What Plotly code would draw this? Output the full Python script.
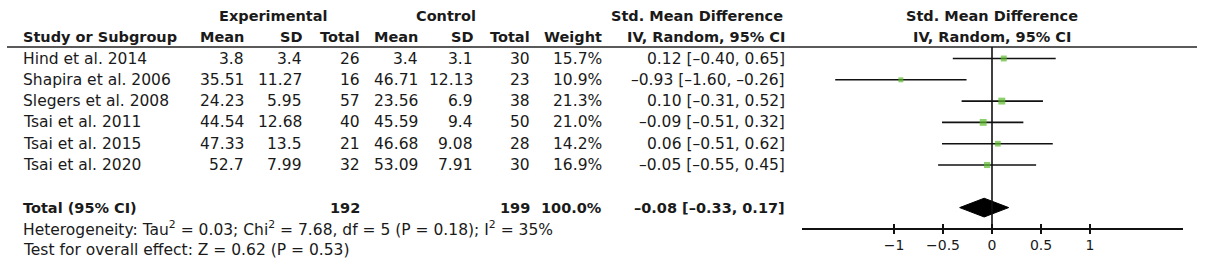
import plotly.graph_objects as go

# ---------------- data ----------------
studies = ["Hind et al. 2014", "Shapira et al. 2006", "Slegers et al. 2008",
           "Tsai et al. 2011", "Tsai et al. 2015", "Tsai et al. 2020"]
exp_mean = ["3.8", "35.51", "24.23", "44.54", "47.33", "52.7"]
exp_sd = ["3.4", "11.27", "5.95", "12.68", "13.5", "7.99"]
exp_n = [26, 16, 57, 40, 21, 32]
ctl_mean = ["3.4", "46.71", "23.56", "45.59", "46.68", "53.09"]
ctl_sd = ["3.1", "12.13", "6.9", "9.4", "9.08", "7.91"]
ctl_n = [30, 23, 38, 50, 28, 30]
weights = [15.7, 10.9, 21.3, 21.0, 14.2, 16.9]
smd = [0.12, -0.93, 0.10, -0.09, 0.06, -0.05]
ci_lo = [-0.40, -1.60, -0.31, -0.51, -0.51, -0.55]
ci_hi = [0.65, -0.26, 0.52, 0.32, 0.62, 0.45]

total_exp = 192
total_ctl = 199
total_weight = "100.0%"
pooled = -0.08
pooled_lo = -0.33
pooled_hi = 0.17
heterogeneity = "Heterogeneity: Tau<sup>2</sup> = 0.03; Chi<sup>2</sup> = 7.68, df = 5 (P = 0.18); I<sup>2</sup> = 35%"
overall = "Test for overall effect: Z = 0.62 (P = 0.53)"

tick_vals = [-1, -0.5, 0, 0.5, 1]
tick_text = ["\u22121", "\u22120.5", "0", "0.5", "1"]

# ---------------- layout helpers ----------------
W, H = 1205, 272
ROW0, ROWH = 58.5, 21.3          # pixel centre of first study row, row height
FONT = "DejaVu Sans"
TXT = "#1a1a1a"
FS = 15.5      # regular text
FSB = 14.5     # bold text


def px(x):
    return x / W


def py(y):
    return 1 - y / H


def fmt(v):
    s = f"{v:.2f}"
    return s.replace("-", "\u2013")


def ci_text(e, lo, hi):
    return f"{fmt(e)} [{fmt(lo)}, {fmt(hi)}]"


rows = list(range(len(studies)))
total_row = len(studies) + 1
het_row = total_row + 1
test_row = total_row + 2

fig = go.Figure()

# study estimates with CIs
fig.add_trace(go.Scatter(
    x=smd, y=rows, mode="markers",
    marker=dict(symbol="square", color="#5dba2c",
                size=[1.5 * (w ** 0.5) for w in weights],
                line=dict(width=0)),
    error_x=dict(type="data", symmetric=False,
                 array=[h - e for h, e in zip(ci_hi, smd)],
                 arrayminus=[e - l for e, l in zip(smd, ci_lo)],
                 color="#111111", thickness=1.6, width=0),
    hoverinfo="skip", showlegend=False,
))

# pooled diamond
dh = 0.44
fig.add_trace(go.Scatter(
    x=[pooled_lo, pooled, pooled_hi, pooled, pooled_lo],
    y=[total_row, total_row - dh, total_row, total_row + dh, total_row],
    mode="lines", fill="toself", fillcolor="#000000",
    line=dict(color="#000000", width=1), hoverinfo="skip", showlegend=False,
))

# invisible trace for overlay axis
fig.add_trace(go.Scatter(x=[0], y=[0], xaxis="x2", mode="markers",
                         marker=dict(opacity=0), hoverinfo="skip", showlegend=False))

ann = []


def add(text, x, row, anchor="right", bold=False, xref="paper"):
    t = f"<b>{text}</b>" if bold else text
    ann.append(dict(text=t, x=x, y=row, xref=xref, yref="y",
                    xanchor=anchor, yanchor="middle", showarrow=False,
                    font=dict(family=FONT, size=FSB if bold else FS, color=TXT)))


# column positions (right edges, pixels)
C_STUDY = 21
C_EM, C_ESD, C_EN = 246, 304, 362
C_CM, C_CSD, C_CN = 420, 475, 532
C_W, C_CI = 604, 787

# headers
add("Experimental", px(273), -2, "center", True)
add("Control", px(446), -2, "center", True)
add("Std. Mean Difference", px(697), -2, "center", True)
add("Study or Subgroup", px(C_STUDY), -1, "left", True)
for lbl, c in [("Mean", C_EM), ("SD", C_ESD), ("Total", C_EN),
               ("Mean", C_CM), ("SD", C_CSD), ("Total", C_CN),
               ("Weight", C_W), ("IV, Random, 95% CI", C_CI)]:
    add(lbl, px(c), -1, "right", True)
add("Std. Mean Difference", 0, -2, "center", True, xref="x")
add("IV, Random, 95% CI", 0, -1, "center", True, xref="x")

# study rows
for i in rows:
    add(studies[i], px(C_STUDY), i, "left")
    add(exp_mean[i], px(C_EM), i)
    add(exp_sd[i], px(C_ESD), i)
    add(str(exp_n[i]), px(C_EN), i)
    add(ctl_mean[i], px(C_CM), i)
    add(ctl_sd[i], px(C_CSD), i)
    add(str(ctl_n[i]), px(C_CN), i)
    add(f"{weights[i]:.1f}%", px(C_W), i)
    add(ci_text(smd[i], ci_lo[i], ci_hi[i]), px(C_CI), i)

# total row
add("Total (95% CI)", px(C_STUDY), total_row, "left", True)
add(str(total_exp), px(C_EN), total_row, "right", True)
add(str(total_ctl), px(C_CN), total_row, "right", True)
add(total_weight, px(C_W), total_row, "right", True)
add(ci_text(pooled, pooled_lo, pooled_hi), px(C_CI), total_row, "right", True)
add(heterogeneity, px(C_STUDY), het_row, "left")
add(overall, px(C_STUDY), test_row, "left")

shapes = [
    dict(type="line", xref="paper", yref="paper", x0=px(7), x1=px(1197),
         y0=py(47), y1=py(47), line=dict(color="#5a5a5a", width=2)),
    dict(type="line", xref="x", yref="paper", x0=0, x1=0,
         y0=py(47), y1=py(228), line=dict(color="#111111", width=1.6)),
]

x_dom = [px(802), px(1183)]
x_rng = [(802 - 992) / 98.0, (1183 - 992) / 98.0]
axis_pos = py(228)

fig.update_layout(
    width=W, height=H, margin=dict(l=0, r=0, t=0, b=0),
    paper_bgcolor="white", plot_bgcolor="white",
    showlegend=False, annotations=ann, shapes=shapes,
    xaxis=dict(domain=x_dom, range=x_rng, anchor="free", position=axis_pos,
               showgrid=False, zeroline=False, showline=True,
               linecolor="#111111", linewidth=1.6,
               ticks="outside", ticklen=4, tickwidth=1.4, tickcolor="#111111",
               tickvals=tick_vals, ticktext=tick_text,
               tickfont=dict(family=FONT, size=14, color=TXT)),
    xaxis2=dict(domain=x_dom, range=x_rng, anchor="free", position=axis_pos,
                overlaying="x", showgrid=False, zeroline=False, showline=False,
                ticks="inside", ticklen=4, tickwidth=1.4, tickcolor="#111111",
                tickvals=tick_vals, showticklabels=False),
    yaxis=dict(domain=[0, 1],
               range=[(H - ROW0) / ROWH, -ROW0 / ROWH],
               visible=False, showgrid=False, zeroline=False),
)

fig.write_html("out.html", config={"displayModeBar": False, "staticPlot": True},
               post_script="document.body.style.margin='0';document.body.style.padding='0';")
